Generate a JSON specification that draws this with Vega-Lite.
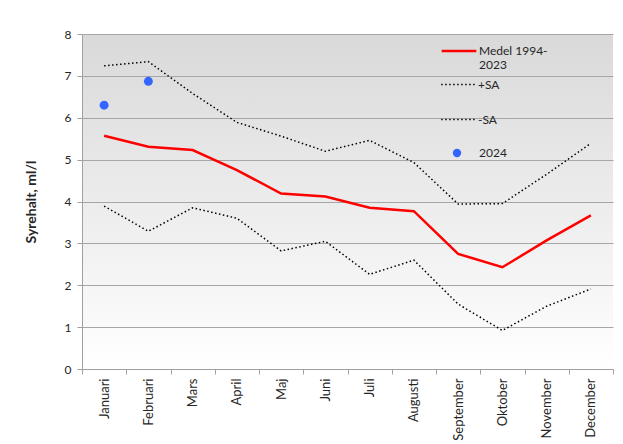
{
  "$schema": "https://vega.github.io/schema/vega-lite/v6.json",
  "width": 531,
  "height": 335,
  "autosize": {"type": "none"},
  "padding": {"left": 82, "top": 34, "right": 10, "bottom": 75},
  "background": "#ffffff",
  "config": {
    "font": "Lato",
    "view": {
      "stroke": null,
      "fill": {"gradient": "linear", "x1": 0, "y1": 0, "x2": 0, "y2": 1,
        "stops": [{"offset": 0, "color": "#d9d9d9"}, {"offset": 1, "color": "#ffffff"}]}
    },
    "axis": {"labelColor": "#262626", "labelFontSize": 12, "domainColor": "#a0a0a0", "tickColor": "#a0a0a0", "gridColor": "#a6a6a6", "gridOpacity": 1, "tickSize": 5},
    "legend": {"labelFontSize": 12, "labelColor": "#262626", "title": null}
  },
  "data": {
    "values": [
      {"month": "Januari", "series": "Medel 1994-2023", "value": 5.57},
      {"month": "Februari", "series": "Medel 1994-2023", "value": 5.31},
      {"month": "Mars", "series": "Medel 1994-2023", "value": 5.23},
      {"month": "April", "series": "Medel 1994-2023", "value": 4.75},
      {"month": "Maj", "series": "Medel 1994-2023", "value": 4.19},
      {"month": "Juni", "series": "Medel 1994-2023", "value": 4.12},
      {"month": "Juli", "series": "Medel 1994-2023", "value": 3.85},
      {"month": "Augusti", "series": "Medel 1994-2023", "value": 3.77},
      {"month": "September", "series": "Medel 1994-2023", "value": 2.75},
      {"month": "Oktober", "series": "Medel 1994-2023", "value": 2.43},
      {"month": "November", "series": "Medel 1994-2023", "value": 3.07},
      {"month": "December", "series": "Medel 1994-2023", "value": 3.67},
      {"month": "Januari", "series": "+SA", "value": 7.24},
      {"month": "Februari", "series": "+SA", "value": 7.34},
      {"month": "Mars", "series": "+SA", "value": 6.58},
      {"month": "April", "series": "+SA", "value": 5.89},
      {"month": "Maj", "series": "+SA", "value": 5.56},
      {"month": "Juni", "series": "+SA", "value": 5.2},
      {"month": "Juli", "series": "+SA", "value": 5.46},
      {"month": "Augusti", "series": "+SA", "value": 4.93},
      {"month": "September", "series": "+SA", "value": 3.94},
      {"month": "Oktober", "series": "+SA", "value": 3.95},
      {"month": "November", "series": "+SA", "value": 4.65},
      {"month": "December", "series": "+SA", "value": 5.39},
      {"month": "Januari", "series": "-SA", "value": 3.89},
      {"month": "Februari", "series": "-SA", "value": 3.29},
      {"month": "Mars", "series": "-SA", "value": 3.85},
      {"month": "April", "series": "-SA", "value": 3.6},
      {"month": "Maj", "series": "-SA", "value": 2.82},
      {"month": "Juni", "series": "-SA", "value": 3.05},
      {"month": "Juli", "series": "-SA", "value": 2.26},
      {"month": "Augusti", "series": "-SA", "value": 2.6},
      {"month": "September", "series": "-SA", "value": 1.55},
      {"month": "Oktober", "series": "-SA", "value": 0.92},
      {"month": "November", "series": "-SA", "value": 1.5},
      {"month": "December", "series": "-SA", "value": 1.91},
      {"month": "Januari", "series": "2024", "value": 6.3},
      {"month": "Februari", "series": "2024", "value": 6.87}
    ]
  },
  "encoding": {
    "x": {
      "field": "month", "type": "nominal",
      "sort": ["Januari", "Februari", "Mars", "April", "Maj", "Juni", "Juli", "Augusti", "September", "Oktober", "November", "December"],
      "scale": {"paddingInner": 0, "paddingOuter": 0},
      "axis": {"title": null, "labelAngle": 270, "tickBand": "extent", "labelPadding": 4, "labelFontSize": 13, "grid": false}
    },
    "y": {
      "field": "value", "type": "quantitative",
      "scale": {"domain": [0, 8]},
      "axis": {"title": "Syrehalt, ml/l", "values": [0, 1, 2, 3, 4, 5, 6, 7, 8], "titleFontSize": 14, "titleFontWeight": "bold", "titleColor": "#262626", "titlePadding": 26, "labelPadding": 6, "grid": true}
    }
  },
  "layer": [
    {
      "transform": [{"filter": "datum.series === '+SA' || datum.series === '-SA'"}],
      "mark": {"type": "line", "color": "#000000", "strokeWidth": 1.5},
      "encoding": {
        "strokeDash": {
          "field": "series", "type": "nominal",
          "scale": {"domain": ["+SA", "-SA"], "range": [[1.5, 2.5], [1.5, 2.5]]},
          "legend": {"orient": "none", "legendX": 358, "legendY": 32, "symbolType": "stroke", "symbolSize": 1200, "symbolStrokeWidth": 1.5, "symbolStrokeColor": "#000000", "labelOffset": 1, "rowPadding": 10}
        }
      }
    },
    {
      "transform": [{"filter": "datum.series === 'Medel 1994-2023'"}],
      "mark": {"type": "line", "strokeWidth": 2.5},
      "encoding": {
        "stroke": {
          "field": "series", "type": "nominal",
          "scale": {"domain": ["Medel 1994-2023"], "range": ["#ff0000"]},
          "legend": {"orient": "none", "legendX": 358, "legendY": -2, "symbolType": "stroke", "symbolSize": 1200, "symbolStrokeWidth": 2.5, "labelOffset": 1,
            "labelExpr": "['Medel 1994-', '2023']"}
        }
      }
    },
    {
      "transform": [{"filter": "datum.series === '2024'"}],
      "mark": {"type": "point", "filled": true, "size": 80, "opacity": 1},
      "encoding": {
        "fill": {
          "field": "series", "type": "nominal",
          "scale": {"domain": ["2024"], "range": ["#3366ff"]},
          "legend": {"orient": "none", "legendX": 369, "legendY": 113, "symbolType": "circle", "symbolSize": 70, "labelOffset": 16}
        }
      }
    }
  ]
}
